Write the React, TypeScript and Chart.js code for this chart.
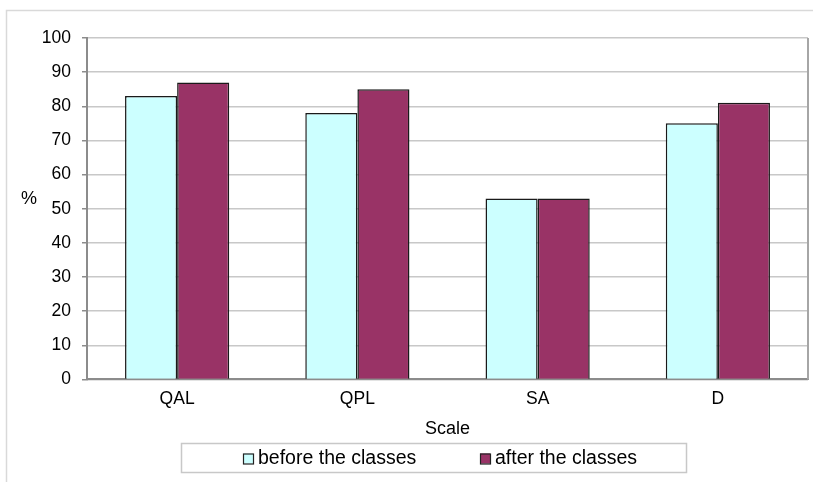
import React, { useEffect, useRef } from "react";
import { Chart, registerables } from "chart.js";

Chart.register(...registerables);

const categories = ["QAL", "QPL", "SA", "D"];
const beforeValues = [83, 78, 53, 75];
const afterValues = [87, 85, 53, 81];
const seriesNames = ["before the classes", "after the classes"];
const seriesColors = ["#CCFFFF", "#993366"];
const yTitle = "%";
const xTitle = "Scale";

const FONT = "'Liberation Sans', Arial, sans-serif";

export default function App() {
  const ref = useRef<HTMLCanvasElement | null>(null);

  useEffect(() => {
    if (!ref.current) return;
    const decor = {
      id: "decor",
      beforeDraw(chart: any) {
        const ctx = chart.ctx;
        ctx.save();
        ctx.strokeStyle = "#d9d9d9";
        ctx.lineWidth = 1.5;
        ctx.beginPath();
        ctx.moveTo(6.5, 482);
        ctx.lineTo(6.5, 10.5);
        ctx.lineTo(813, 10.5);
        ctx.stroke();
        ctx.restore();
      },
      afterDraw(chart: any) {
        const ctx = chart.ctx;
        const a = chart.chartArea;
        ctx.save();
        ctx.strokeStyle = "#a6a6a6";
        ctx.lineWidth = 2;
        ctx.beginPath();
        ctx.moveTo(a.right, a.top);
        ctx.lineTo(a.right, a.bottom);
        ctx.stroke();
        ctx.fillStyle = "#000";
        ctx.font = `18px ${FONT}`;
        ctx.textAlign = "center";
        ctx.textBaseline = "middle";
        ctx.fillText(yTitle, 29, 199);
        const lx = 181, ly = 443, lw = 505, lh = 29;
        ctx.strokeStyle = "#c8c8c8";
        ctx.lineWidth = 1.5;
        ctx.strokeRect(lx + 0.5, ly + 0.5, lw, lh);
        ctx.font = `19.5px ${FONT}`;
        ctx.textAlign = "left";
        const items = [243, 480];
        seriesNames.forEach((name, i) => {
          const x = items[i];
          const cy = ly + lh / 2 + 1;
          ctx.fillStyle = seriesColors[i];
          ctx.fillRect(x, cy - 5, 10, 10);
          ctx.strokeStyle = "#222";
          ctx.lineWidth = 1.2;
          ctx.strokeRect(x + 0.5, cy - 4.5, 10, 10);
          ctx.fillStyle = "#000";
          ctx.fillText(name, x + 15, cy);
        });
        ctx.restore();
      },
    };

    const chart = new Chart(ref.current, {
      type: "bar",
      data: {
        labels: categories,
        datasets: [
          {
            label: seriesNames[0],
            data: beforeValues,
            backgroundColor: seriesColors[0],
            borderColor: "#1a1a1a",
            borderWidth: 1.5,
          },
          {
            label: seriesNames[1],
            data: afterValues,
            backgroundColor: seriesColors[1],
            borderColor: "#1a1a1a",
            borderWidth: 1.5,
          },
        ],
      },
      options: {
        responsive: false,
        animation: false,
        devicePixelRatio: 1,
        layout: { padding: { left: 0, top: 38, right: 5, bottom: 42 } },
        datasets: {
          bar: { categoryPercentage: 0.578, barPercentage: 1 },
        },
        plugins: {
          legend: { display: false },
          tooltip: { enabled: false },
        },
        scales: {
          x: {
            grid: { display: false },
            border: { color: "#8c8c8c", width: 2 },
            ticks: { color: "#000", font: { family: FONT, size: 17.5 }, padding: 1 },
            title: {
              display: true,
              text: xTitle,
              color: "#000",
              font: { family: FONT, size: 18 },
              padding: { top: 8, bottom: 0 },
            },
          },
          y: {
            min: 0,
            max: 100,
            afterFit: (s: any) => {
              s.width = 87;
            },
            grid: { color: "#c8c8c8", lineWidth: 1.5, tickLength: 5, tickColor: "#8c8c8c" },
            border: { color: "#8c8c8c", width: 2 },
            ticks: {
              stepSize: 10,
              color: "#000",
              font: { family: FONT, size: 17.5 },
              padding: 11,
            },
          },
        },
      },
      plugins: [decor],
    });
    return () => chart.destroy();
  }, []);

  return (
    <canvas
      ref={ref}
      width={813}
      height={482}
      style={{ position: "absolute", left: 0, top: 0, width: 813, height: 482 }}
    />
  );
}
